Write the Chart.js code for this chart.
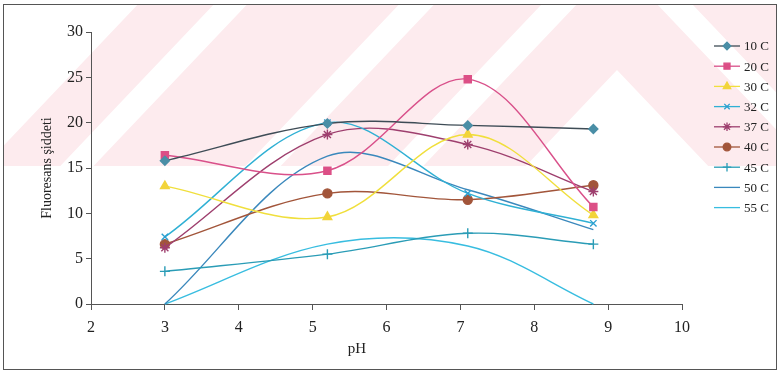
<!DOCTYPE html>
<html>
<head>
<meta charset="utf-8">
<script src="https://cdn.jsdelivr.net/npm/chart.js"></script>
<style>
  html, body { margin: 0; padding: 0; background: #fff; }
  canvas { display: block; }
</style>
</head>
<body>
<canvas id="phChart" width="781" height="378"></canvas>
<script>
// pH values measured, one series per temperature
const phValues = [3, 5.2, 7.1, 8.8];
const seriesLabels = ['10 C', '20 C', '30 C', '32 C', '37 C', '40 C', '45 C', '50 C', '55 C'];
const t10 = [15.8, 19.9, 19.7, 19.3];
const t20 = [16.4, 14.7, 24.8, 10.7];
const t30 = [13.0, 9.6, 18.7, 9.8];
const t32 = [7.4, 20.0, 12.2, 8.9];
const t37 = [6.2, 18.7, 17.6, 12.4];
const t40 = [6.6, 12.2, 11.5, 13.1];
const t45 = [3.6, 5.5, 7.8, 6.6];
const t50 = [0, 16.3, 12.6, 8.2];
const t55 = [0, 6.6, 6.4, 0];
const xTicks = [2, 3, 4, 5, 6, 7, 8, 9, 10];
const yTicks = [0, 5, 10, 15, 20, 25, 30];

const allSeries = [t10, t20, t30, t32, t37, t40, t45, t50, t55];

const styles = [
    { line: '#3e4c56', point: '#4a8ea6', shape: 'rectRot', r: 4.5 },
    { line: '#d9508a', point: '#dc4f86', shape: 'rect', r: 5 },
    { line: '#f0df3c', point: '#f2d43a', shape: 'triangle', r: 5 },
    { line: '#2fb0d4', point: '#2a9fd0', shape: 'crossRot', r: 4.5 },
    { line: '#9e3f6e', point: '#9e3f6e', shape: 'star', r: 5 },
    { line: '#a2553a', point: '#a2553a', shape: 'circle', r: 4.5 },
    { line: '#2a9cb6', point: '#2a9cb6', shape: 'cross', r: 5 },
    { line: '#3a88bc', point: '#3a88bc', shape: false, r: 0 },
    { line: '#38bde0', point: '#38bde0', shape: false, r: 0 }
];

const serif = '"Liberation Serif", "Times New Roman", serif';

// faint pink chevron watermark behind the chart, plus frame, legend, x title
const decor = {
    id: 'decor',
    beforeDraw(chart) {
        const ctx = chart.ctx;
        ctx.save();
        ctx.fillStyle = '#fff';
        ctx.fillRect(0, 0, chart.width, chart.height);

        ctx.beginPath();
        ctx.rect(4, 4, 772, 162);
        ctx.clip();
        ctx.fillStyle = 'rgb(253, 235, 238)';
        const cx = 617, k = 0.95;
        const bands = [[-500, -420], [-385, -225], [-188, -75], [-38, 70]];
        bands.forEach(([a1, a2]) => {
            const xl = -400, xr = 1400;
            ctx.beginPath();
            ctx.moveTo(xl, a1 + (cx - xl) / k);
            ctx.lineTo(cx, a1);
            ctx.lineTo(xr, a1 + (xr - cx) / k);
            ctx.lineTo(xr, a2 + (xr - cx) / k);
            ctx.lineTo(cx, a2);
            ctx.lineTo(xl, a2 + (cx - xl) / k);
            ctx.closePath();
            ctx.fill();
        });
        ctx.restore();

        ctx.save();
        ctx.strokeStyle = '#555';
        ctx.lineWidth = 1;
        ctx.strokeRect(3.5, 4.5, 773, 365);
        ctx.restore();
    },
    afterDraw(chart) {
        const ctx = chart.ctx;
        ctx.save();
        ctx.fillStyle = '#222';
        ctx.font = '15px ' + serif;
        ctx.textAlign = 'center';
        ctx.textBaseline = 'middle';
        ctx.fillText('pH', 357, 349);

        ctx.font = '13px ' + serif;
        ctx.textAlign = 'left';
        chart.data.datasets.forEach((ds, i) => {
            const y = 46 + i * 20.2;
            ctx.strokeStyle = ds.borderColor;
            ctx.lineWidth = 1.3;
            ctx.beginPath();
            ctx.moveTo(714, y);
            ctx.lineTo(740, y);
            ctx.stroke();
            if (ds.pointStyle) {
                ctx.fillStyle = ds.pointBackgroundColor;
                ctx.strokeStyle = ds.pointBorderColor;
                ctx.lineWidth = 1.3;
                Chart.helpers.drawPoint(ctx, {
                    pointStyle: ds.pointStyle,
                    radius: ds.pointRadius * 0.85,
                    borderWidth: 1.3,
                    rotation: 0
                }, 727, y);
            }
            ctx.fillStyle = '#222';
            ctx.fillText(ds.label, 744, y + 1);
        });
        ctx.restore();
    }
};

const datasets = allSeries.map((values, i) => ({
    label: seriesLabels[i],
    data: phValues.map((x, j) => ({ x: x, y: values[j] })),
    borderColor: styles[i].line,
    borderWidth: 1.4,
    pointStyle: styles[i].shape,
    pointRadius: styles[i].r,
    pointBackgroundColor: styles[i].point,
    pointBorderColor: styles[i].point,
    pointBorderWidth: 1.4,
    tension: 0.35,
    fill: false,
    clip: false
}));

new Chart(document.getElementById('phChart'), {
    type: 'line',
    data: { datasets: datasets },
    plugins: [decor],
    options: {
        responsive: false,
        animation: false,
        devicePixelRatio: 1,
        layout: { padding: { top: 32, right: 99, left: 0, bottom: 0 } },
        plugins: {
            legend: { display: false },
            tooltip: { enabled: false }
        },
        scales: {
            x: {
                type: 'linear',
                min: 2,
                max: 10,
                afterBuildTicks: (scale) => { scale.ticks = xTicks.map(v => ({ value: v })); },
                afterFit: (scale) => { scale.height = 74; },
                grid: { drawOnChartArea: false, drawTicks: true, tickLength: 6, color: '#555' },
                border: { display: true, color: '#555', width: 1 },
                ticks: { color: '#222', padding: 8, font: { family: serif, size: 16 }, maxRotation: 0 }
            },
            y: {
                min: 0,
                max: 30,
                afterBuildTicks: (scale) => { scale.ticks = yTicks.map(v => ({ value: v })); },
                afterFit: (scale) => { scale.width = 91; },
                grid: { drawOnChartArea: false, drawTicks: true, tickLength: 5, color: '#555' },
                border: { display: true, color: '#555', width: 1 },
                ticks: { color: '#222', padding: 3, font: { family: serif, size: 16 } },
                title: {
                    display: true,
                    text: 'Fluoresans şiddeti',
                    color: '#222',
                    font: { family: serif, size: 14 },
                    padding: { top: 39, bottom: 0 }
                }
            }
        }
    }
});
</script>
</body>
</html>
